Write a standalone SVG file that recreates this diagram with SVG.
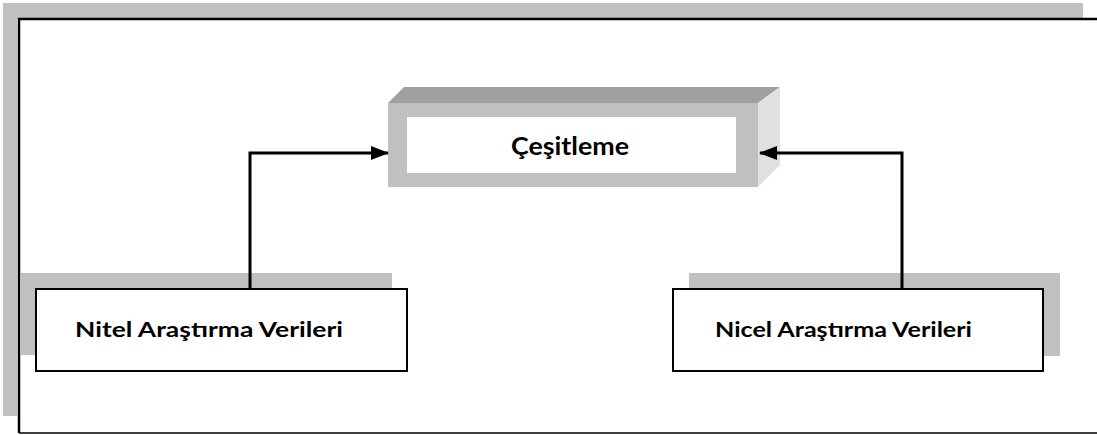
<svg xmlns="http://www.w3.org/2000/svg" width="1097" height="435" viewBox="0 0 1097 435">
<style>
.shadow{fill:#c0c0c0}
.box{fill:#ffffff;stroke:#000;stroke-width:2}
.lbl{font-family:Lato,"Open Sans","Liberation Sans",sans-serif;font-weight:bold;fill:#000}
.conn{fill:none;stroke:#000;stroke-width:3}
</style>
<defs>
<marker id="ah2" markerWidth="18" markerHeight="14" refX="17" refY="7" orient="auto" markerUnits="userSpaceOnUse" viewBox="0 0 18 14">
<path d="M0,0 L18,7 L0,14 z" fill="#000"/>
</marker>
</defs>
<rect width="1097" height="435" fill="#fff"/>
<g id="frame">
<rect x="3" y="3" width="1080" height="15" class="shadow"/>
<rect x="3" y="3" width="14" height="413" class="shadow"/>
<path d="M19,433 L19,19 L1097,19" fill="none" stroke="#000" stroke-width="2.5"/>
<line x1="19" y1="433" x2="1097" y2="433" stroke="#000" stroke-width="1.5"/>
</g>
<g id="cesitleme">
<polygon points="388,103 404,87 780,87 758,103" fill="#a0a0a0"/>
<polygon points="758,103 780,87 780,165 758,187" fill="#e0e0e0"/>
<rect x="388" y="103" width="370" height="84" fill="#c0c0c0"/>
<rect x="407" y="117" width="329" height="56" fill="#fff"/>
<text x="570" y="155" text-anchor="middle" class="lbl" font-size="24" textLength="118" lengthAdjust="spacingAndGlyphs">Çeşitleme</text>
</g>
<g id="nitel">
<rect x="20" y="273" width="372" height="82" class="shadow"/>
<rect x="36" y="289" width="371" height="82" class="box"/>
<text x="75" y="337" class="lbl" font-size="21" textLength="268" lengthAdjust="spacingAndGlyphs">Nitel Araştırma Verileri</text>
</g>
<g id="nicel">
<rect x="689" y="273" width="371" height="83" class="shadow"/>
<rect x="673" y="289" width="370" height="82" class="box"/>
<text x="715" y="337" class="lbl" font-size="21" textLength="257" lengthAdjust="spacingAndGlyphs">Nicel Araştırma Verileri</text>
</g>
<g id="connectors">
<path d="M250,289 L250,153 L388,153" class="conn" marker-end="url(#ah2)"/>
<path d="M902,289 L902,153 L760,153" class="conn" marker-end="url(#ah2)"/>
</g>
</svg>
